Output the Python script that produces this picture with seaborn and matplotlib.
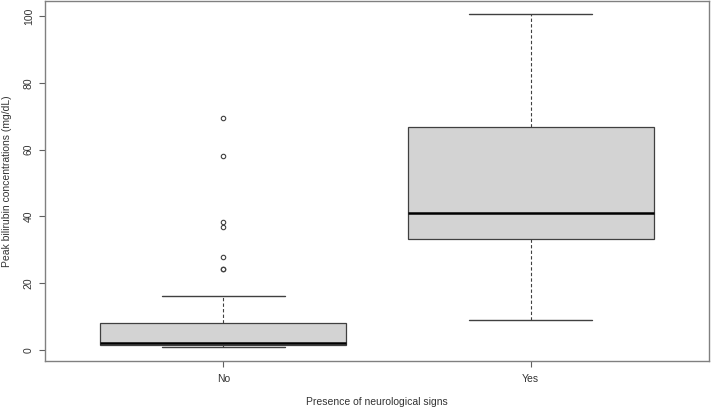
"""
Peak bilirubin concentrations by presence of neurological signs.
Box plot, R base graphics look.
"""

import matplotlib
matplotlib.use("Agg")
import matplotlib.pyplot as plt
import pandas as pd
import seaborn as sns

# values (outliers included)
no_signs = [
    0.7, 0.8, 0.9, 1.0, 1.0, 1.1, 1.2, 1.2, 1.3, 1.3,
    1.4,
    1.5, 1.6, 1.6, 1.7, 1.8, 1.8, 1.9, 2.0, 2.0,
    2.1,
    2.4, 2.8, 3.3, 3.9, 4.5, 5.2, 6.0, 6.8, 7.5,
    8.0,
    10.5, 12.8, 16.2, 24.3, 24.3, 27.7, 36.7, 38.2, 58.0, 69.6,
]
yes_signs = [8.8, 25.0, 33.1, 36.0, 41.0, 52.0, 66.8, 85.0, 100.6]

groups = ["No", "Yes"]
y_ticks = [0, 20, 40, 60, 80, 100]


def main():
    df = pd.DataFrame({
        "group": ["No"] * len(no_signs) + ["Yes"] * len(yes_signs),
        "value": no_signs + yes_signs,
    })

    sns.set_theme(style="ticks")
    plt.rcParams["font.family"] = ["Liberation Sans", "DejaVu Sans"]

    fig = plt.figure(figsize=(7.11, 4.08), dpi=100)
    ax = fig.add_axes([45 / 711, 47 / 408, 664 / 711, 360 / 408])

    sns.boxplot(
        data=df, x="group", y="value", order=groups,
        color="#d3d3d3", saturation=1, width=0.8,
        linecolor="#404040", linewidth=0.9, fliersize=3.2,
        whiskerprops={"linestyle": (0, (3, 2)), "linewidth": 0.8},
        capprops={"linewidth": 1.0},
        medianprops={"color": "black", "linewidth": 1.8},
        flierprops={"marker": "o", "markerfacecolor": "none",
                    "markeredgecolor": "#404040",
                    "markeredgewidth": 0.8},
        ax=ax,
    )

    ax.set_xlim(-0.58, 1.58)
    ax.set_ylim(-3.4, 104.6)
    ax.set_yticks(y_ticks)
    ax.set_yticklabels([str(t) for t in y_ticks], rotation=90,
                       va="center")

    for side in ["left", "right", "top", "bottom"]:
        ax.spines[side].set_visible(True)
        ax.spines[side].set_color("#808080")
        ax.spines[side].set_linewidth(1.0)

    ax.tick_params(axis="both", direction="out", length=4, width=0.8,
                   color="#606060", labelsize=7.5, labelcolor="#333333")
    ax.tick_params(axis="y", pad=4)
    ax.tick_params(axis="x", pad=5)

    ax.set_xlabel("Presence of neurological signs", fontsize=7.5,
                  color="#333333")
    ax.set_ylabel("Peak bilirubin concentrations (mg/dL)", fontsize=7.5,
                  color="#333333")
    ax.xaxis.set_label_coords(0.5, -0.1)
    ax.yaxis.set_label_coords(-0.05, 0.5)

    fig.savefig("out.png", dpi=100)
    plt.close(fig)


if __name__ == "__main__":
    main()
